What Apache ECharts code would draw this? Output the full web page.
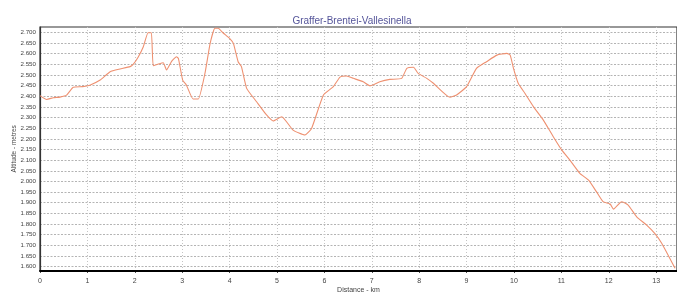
<!DOCTYPE html>
<html>
<head>
<meta charset="utf-8">
<script src="https://cdn.jsdelivr.net/npm/echarts@6/dist/echarts.min.js"></script>
<style>html,body{margin:0;padding:0;background:#fff}#c{width:677px;height:295px}</style>
</head>
<body>
<div id="c"></div>
<script>
var titleText = 'Graffer-Brentei-Vallesinella';
var xAxisName = 'Distance - km';
var yAxisName = 'Altitude - metres';
var distanceKm = [0.00,0.14,0.28,0.42,0.56,0.70,0.90,1.05,1.27,1.48,1.69,1.90,1.97,2.07,2.18,2.28,2.35,2.39,2.50,2.60,2.67,2.78,2.88,2.92,3.01,3.09,3.23,3.34,3.48,3.59,3.69,3.76,3.86,4.00,4.08,4.18,4.25,4.36,4.57,4.78,4.92,5.10,5.34,5.59,5.73,5.98,6.19,6.33,6.47,6.61,6.82,6.96,7.17,7.38,7.63,7.74,7.88,7.98,8.16,8.30,8.65,8.79,9.00,9.21,9.42,9.64,9.85,9.92,9.99,10.09,10.23,10.41,10.62,10.83,11.01,11.18,11.39,11.57,11.74,11.88,12.03,12.10,12.27,12.41,12.59,12.80,12.97,13.12,13.40];
var altitudeM = [2403,2385,2393,2396,2405,2442,2445,2452,2476,2515,2528,2539,2551,2583,2632,2698,2698,2543,2551,2557,2523,2565,2585,2578,2476,2452,2387,2387,2507,2648,2719,2719,2698,2672,2648,2562,2539,2437,2374,2312,2284,2304,2241,2218,2249,2406,2445,2490,2495,2484,2468,2449,2468,2479,2484,2531,2536,2507,2484,2461,2395,2406,2445,2531,2562,2593,2601,2593,2531,2461,2414,2351,2288,2210,2147,2100,2038,2007,1952,1905,1894,1870,1905,1889,1834,1795,1756,1709,1592];
var yTickValues = [1600,1650,1700,1750,1800,1850,1900,1950,2000,2050,2100,2150,2200,2250,2300,2350,2400,2450,2500,2550,2600,2650,2700];
var xTickValues = [0,1,2,3,4,5,6,7,8,9,10,11,12,13];

var pts = distanceKm.map(function(d,i){return [d, altitudeM[i]];});
function fmtThousands(v){return String(v).replace(/\B(?=(\d{3})+(?!\d))/g,'.');}
var ff = 'Liberation Sans Narrow, Arial Narrow, Liberation Sans, sans-serif';

var chart = echarts.init(document.getElementById('c'), null, {renderer:'canvas'});
chart.setOption({
  animation:false,
  backgroundColor:'#fff',
  title:{text:titleText,left:347,top:11,textAlign:'center',
    textStyle:{fontFamily:ff,fontSize:10,fontWeight:'normal',color:'#55559a'}},
  grid:{left:40,right:0,top:27,bottom:24.3,containLabel:false,outerBoundsMode:'none',
    show:true,borderColor:'#333',borderWidth:1.2,backgroundColor:'#fff'},
  xAxis:{type:'value',min:0,max:13.44,
    name:xAxisName,nameLocation:'middle',nameGap:16,nameMoveOverlap:false,
    nameTextStyle:{fontFamily:ff,fontSize:7,color:'#444'},
    axisLine:{show:true,lineStyle:{color:'#000',width:2}},
    axisTick:{show:true,length:2,customValues:xTickValues,lineStyle:{color:'#000'}},
    axisLabel:{fontFamily:ff,fontSize:7,color:'#444',margin:7,customValues:xTickValues},
    splitLine:{show:true,lineStyle:{color:'#c4c4c4',type:[1,2],width:1}}},
  yAxis:{type:'value',min:1581,max:2725,
    name:yAxisName,nameLocation:'middle',nameGap:22,nameRotate:90,nameMoveOverlap:false,
    nameTextStyle:{fontFamily:ff,fontSize:6.5,color:'#444'},
    axisLine:{show:true,lineStyle:{color:'#333',width:1.2}},
    axisTick:{show:false,customValues:yTickValues},
    axisLabel:{fontFamily:ff,fontSize:6.2,color:'#444',margin:4,
      customValues:yTickValues,formatter:function(v){return fmtThousands(v);}},
    splitLine:{show:true,lineStyle:{color:'#b4b4b4',type:[2,1.5],width:1}}},
  series:[{type:'line',data:pts,showSymbol:false,smooth:0.15,clip:true,
    lineStyle:{color:'#ee9070',width:1.1}}]
});
</script>
</body>
</html>
